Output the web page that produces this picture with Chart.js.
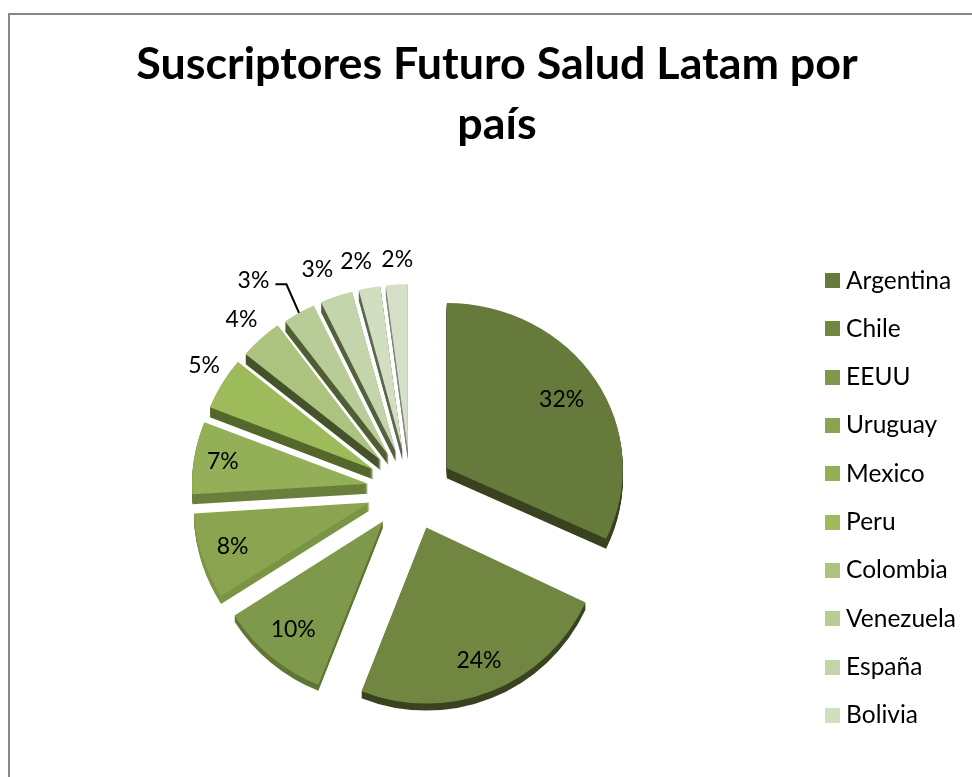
<!DOCTYPE html>
<html>
<head>
<meta charset="utf-8">
<script src="https://cdn.jsdelivr.net/npm/chart.js@4"></script>
<style>
  html, body { margin: 0; background: #fff; overflow: hidden; }
  #frame { position: absolute; left: 8px; top: 13px; width: 990px; height: 790px; border: 1px solid #868686; border-width: 2px 0 0 2px; overflow: hidden; }
  canvas { display: block; }
</style>
</head>
<body>
<div id="frame"><canvas id="chart" width="976" height="763"></canvas></div>
<script>
// the source chart has eleven slices but only ten names, so the legend stops at Bolivia
const categories = ['Argentina', 'Chile', 'EEUU', 'Uruguay', 'Mexico', 'Peru', 'Colombia', 'Venezuela', 'España', 'Bolivia'];
const values = [32, 24, 10, 8, 7, 5, 4, 3, 3, 2, 2];
const titleLines = ['Suscriptores Futuro Salud Latam por', 'país'];

const sliceColors = ['#667a3b', '#718741', '#7f994c', '#8aa44f', '#93af57', '#9dbb5a', '#acc380', '#b8cc97', '#c4d5ac', '#d1dfc0', '#d6e0c8'];
const sideColors = ['#3a4320', '#3a4320', '#5f7634', '#7a9544', '#6a7f3c', '#55682c', '#465229', '#515e34', '#566040', '#5e6850', '#7f8878'];
const sideDepth = [10, 7, 6, 8, 10, 10, 10, 10, 10, 10, 10];
const sliceSquash = [0.94, 1, 1, 0.99, 0.95, 0.96, 0.95, 0.94, 0.94, 0.94, 0.94];
const labelRadius = [136, 143, 141, 144, 147, 201, 204, 230, 209, 206, 202];
const labelAngleShift = [0, 0, 0, 0, 0, 2, 0, -5.4, -2.3, -2.2, 0.6];
const leaderLabels = [7];

const pieRadius = 176;
const squash = 0.94; // the pie is tilted a little
const shiftX = -7;   // pie sits left of the free area
const liftY = 8;     // legend centre sits lower than pie centre
const explode = 43;
const fontName = 'Lato, Carlito, sans-serif';

// square that is wider than the legend's box slot, keeps the text close to it
function swatch(color) {
  const c = document.createElement('canvas');
  c.width = 15;
  c.height = 15;
  const g = c.getContext('2d');
  g.fillStyle = color;
  g.fillRect(0, 0, 15, 15);
  return c;
}

function pieCentre(chart) {
  const area = chart.chartArea;
  return { x: (area.left + area.right) / 2, y: (area.top + area.bottom) / 2 };
}

// tip of a slice on screen
function tipOf(arc, c) {
  return { x: arc.x + shiftX, y: c.y - liftY + (arc.y - c.y) * squash };
}

function drawSlice(ctx, arc, c, i, drop) {
  const tip = tipOf(arc, c);
  ctx.save();
  ctx.translate(tip.x, tip.y + drop);
  ctx.scale(1, sliceSquash[i]);
  ctx.translate(-arc.x, -arc.y);
  arc.draw(ctx);
  ctx.restore();
}

const tiltedPie = {
  id: 'tiltedPie',
  afterDatasetsUpdate(chart) {
    // move the elements directly, the offset option also shrinks thin slices
    chart.getDatasetMeta(0).data.forEach(arc => {
      const mid = (arc.startAngle + arc.endAngle) / 2;
      arc.x += Math.cos(mid) * explode;
      arc.y += Math.sin(mid) * explode;
    });
  },
  // each slice gets its own tilt, so they are drawn below instead
  beforeDatasetDraw() {
    return false;
  },
  afterDatasetsDraw(chart) {
    const ctx = chart.ctx;
    const c = pieCentre(chart);
    const arcs = chart.getDatasetMeta(0).data;

    arcs.forEach((arc, i) => {
      const top = arc.options;
      arc.options = Object.assign({}, top, { backgroundColor: sideColors[i] });
      for (let k = sideDepth[i]; k > 0; k--) {
        drawSlice(ctx, arc, c, i, k);
      }
      arc.options = top;
    });
    arcs.forEach((arc, i) => drawSlice(ctx, arc, c, i, 0));

    ctx.save();
    ctx.fillStyle = '#000';
    ctx.font = '23px ' + fontName;
    ctx.textAlign = 'center';
    ctx.textBaseline = 'middle';
    arcs.forEach((arc, i) => {
      const tip = tipOf(arc, c);
      const mid = (arc.startAngle + arc.endAngle) / 2;
      const a = mid + labelAngleShift[i] * Math.PI / 180;
      const px = tip.x + Math.cos(a) * labelRadius[i];
      const py = tip.y + Math.sin(a) * labelRadius[i] * sliceSquash[i];
      ctx.fillText(values[i] + '%', px, py);
      if (leaderLabels.includes(i)) {
        // leader line from the moved label to the rim of its slice
        ctx.beginPath();
        ctx.moveTo(px + 22, py + 4);
        ctx.lineTo(px + 33, py + 4);
        ctx.lineTo(tip.x + Math.cos(mid) * pieRadius, tip.y + Math.sin(mid) * pieRadius * sliceSquash[i]);
        ctx.strokeStyle = '#000';
        ctx.lineWidth = 2;
        ctx.stroke();
      }
    });
    ctx.restore();
  }
};

new Chart(document.getElementById('chart'), {
  type: 'pie',
  data: {
    labels: categories,
    datasets: [{
      data: values,
      backgroundColor: sliceColors,
      borderWidth: 0
    }]
  },
  options: {
    responsive: false,
    animation: false,
    radius: pieRadius,
    layout: { padding: { left: 18, right: 20, top: 0, bottom: 7 } },
    plugins: {
      tooltip: { enabled: false },
      title: {
        display: true,
        text: titleLines,
        color: '#000',
        font: { family: fontName, size: 44.8, weight: 'bold', lineHeight: 1.34 },
        padding: { top: 20, bottom: 70 }
      },
      legend: {
        position: 'right',
        fullSize: false,
        labels: {
          color: '#000',
          font: { family: fontName, size: 24.5 },
          padding: 23.8,
          usePointStyle: true,
          pointStyleWidth: 3,
          generateLabels(chart) {
            const items = Chart.overrides.doughnut.plugins.legend.labels.generateLabels(chart);
            items.forEach(item => { item.pointStyle = swatch(item.fillStyle); });
            return items;
          }
        }
      }
    }
  },
  plugins: [tiltedPie]
});
</script>
</body>
</html>
